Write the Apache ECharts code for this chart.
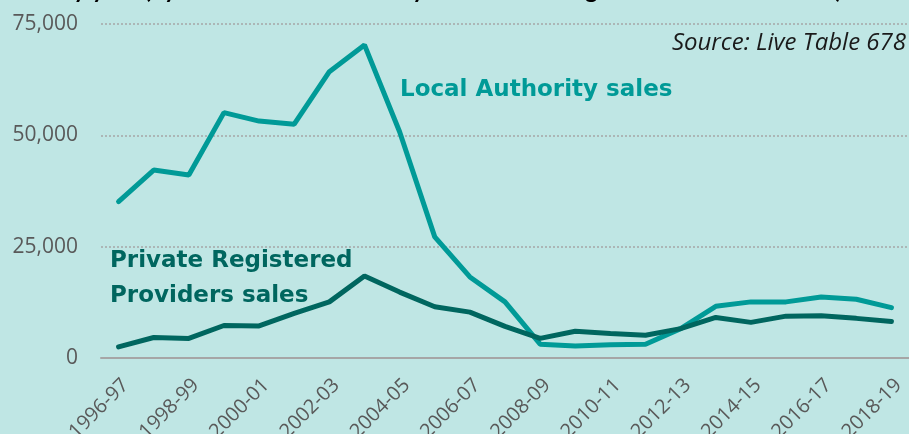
<!DOCTYPE html>
<html>
<head>
<meta charset="utf-8">
<script src="https://cdn.jsdelivr.net/npm/echarts@6/dist/echarts.min.js"></script>
<style>
  html, body { margin: 0; padding: 0; background: #bfe6e4; }
  #salesData { width: 909px; height: 434px; }
</style>
</head>
<body>
<div id="salesData"></div>
<script>
var years = ['1996-97','1997-98','1998-99','1999-00','2000-01','2001-02','2002-03','2003-04',
  '2004-05','2005-06','2006-07','2007-08','2008-09','2009-10','2010-11','2011-12',
  '2012-13','2013-14','2014-15','2015-16','2016-17','2017-18','2018-19'];
var laSales = [35100, 42200, 41100, 55100, 53200, 52500, 64300, 70300,
  50800, 27200, 18200, 12600, 3100, 2700, 3000, 3100,
  6600, 11600, 12600, 12600, 13700, 13200, 11300];
var prpSales = [2500, 4600, 4400, 7300, 7200, 10000, 12600, 18400,
  14800, 11500, 10300, 7100, 4400, 6000, 5500, 5100,
  6600, 9100, 8000, 9400, 9500, 8900, 8200];
var yTicks = [0, 25000, 50000, 75000];

function sales(){
  var salesData = document.getElementById('salesData');
  var salesDom = echarts.init(salesData);
  var optionSales;

optionSales = {
  backgroundColor: '#bfe6e4',
  animation: false,
  grid: {
    left: 101,
    right: 0,
    top: 24,
    bottom: 76,
    containLabel: false,
    outerBoundsMode: 'none'
  },
  xAxis: {
    type: 'category',
    data: years,
    boundaryGap: true,
    axisLine: { lineStyle: { color: '#a6a6a6', width: 2 } },
    axisTick: { show: false },
    axisLabel: {
      interval: 1,
      rotate: 45,
      margin: 17,
      verticalAlign: 'top',
      color: '#595959',
      fontFamily: 'Open Sans',
      fontSize: 20
    }
  },
  yAxis: {
    type: 'value',
    min: yTicks[0],
    max: yTicks[yTicks.length - 1],
    interval: yTicks[1] - yTicks[0],
    axisLine: { show: false },
    axisTick: { show: false },
    axisLabel: {
      margin: 23,
      color: '#595959',
      fontFamily: 'Open Sans',
      fontSize: 21
    },
    splitLine: {
      lineStyle: { color: '#a6a6a6', type: [2, 2], width: 1.5 }
    }
  },
  series: [
    {
      name: 'Local Authority sales',
      type: 'line',
      data: laSales,
      symbol: 'none',
      lineStyle: { color: '#009a97', width: 5, cap: 'round' }
    },
    {
      name: 'Private Registered Providers sales',
      type: 'line',
      data: prpSales,
      symbol: 'none',
      lineStyle: { color: '#00665f', width: 5, cap: 'round' }
    }
  ],
  graphic: [
    {
      type: 'text', x: 0, y: -22,
      style: {
        text: 'Sales by year (by sector: Local Authority and Private Registered Providers sales)',
        fill: '#000', font: 'bold 24px Lato'
      }
    },
    {
      type: 'text', right: 3, top: 31,
      style: {
        text: 'Source: Live Table 678',
        fill: '#1a1a1a', font: 'italic 24px "Open Sans"'
      }
    },
    {
      type: 'text', left: 400, top: 79,
      style: {
        text: 'Local Authority sales',
        fill: '#009a97', font: 'bold 23px "DejaVu Sans"'
      }
    },
    {
      type: 'text', left: 110, top: 244,
      style: {
        text: 'Private Registered\nProviders sales',
        fill: '#00665f', font: 'bold 23px "DejaVu Sans"', lineHeight: 35
      }
    }
  ]
};
  salesDom.setOption(optionSales);
}
sales();
</script>
</body>
</html>
